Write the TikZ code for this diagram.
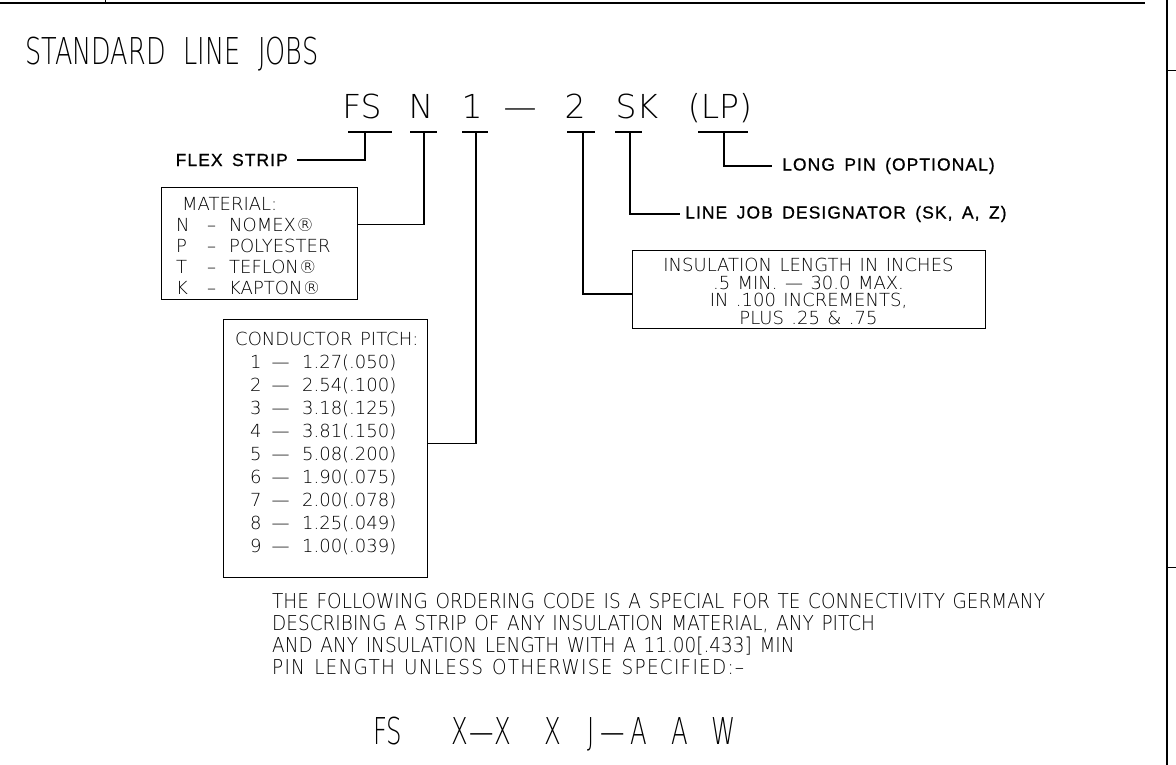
\documentclass[tikz,border=0pt]{standalone}
\usepackage{fontspec}
\IfFontExistsTF{DejaVuSans-ExtraLight.ttf}
  {\def\thinname{DejaVuSans-ExtraLight.ttf}}
  {\def\thinname{DejaVu Sans}}
\newfontfamily\cadfont[WordSpace=1.3]{\thinname}
\newfontfamily\cadnarrow[FakeStretch=0.66]{\thinname}
\newfontfamily\parafam[FakeStretch=0.9, WordSpace=1.3]{\thinname}
\newfontfamily\titlefam[FakeStretch=0.69, WordSpace=2.2]{\thinname}
\newfontfamily\lblfont[LetterSpace=6, WordSpace=1.6, FakeBold=0.8]{Liberation Sans}
\usetikzlibrary{positioning}
\newcommand{\matline}[2]{\makebox[14pt][l]{#1}\hspace{17pt}–\hspace{13pt}#2}
\newcommand{\pitchline}[2]{\hspace*{15pt}#1\hspace{10pt}—\hspace{12.5pt}#2}
\tikzset{
  titletxt/.style={inner sep=0pt, font=\titlefam\fontsize{37}{40}\selectfont},
  codetxt/.style={inner sep=0pt, anchor=base, font=\cadfont\fontsize{33}{36}\selectfont},
  ordertxt/.style={inner sep=0pt, font=\cadnarrow\fontsize{37}{40}\selectfont},
  cadtxt/.style={inner sep=0pt, align=left, font=\cadfont\fontsize{18}{21}\selectfont},
  paratxt/.style={inner sep=0pt, align=left, font=\parafam\fontsize{20.5}{22}\selectfont},
  lbl/.style={inner sep=0pt, font=\lblfont\fontsize{17.5}{20}\selectfont},
  cadbox/.style={draw, line width=0.9pt, inner sep=0pt, anchor=north west},
  bar/.style={line width=1.6pt},
  lead/.style={line width=1.6pt},
  frame/.style={line width=1.6pt},
  tick/.style={line width=0.6pt},
}
\begin{document}
\begin{tikzpicture}[x=1pt,y=-1pt]
\useasboundingbox (0,0) rectangle (1176,765);

% sheet frame
\draw[frame] (0,3) -- (1145,3);
\draw[tick] (105,0) -- (105,3);
\draw[frame, line width=2pt] (1166.5,0) -- (1166.5,765);
\draw[tick] (1167,70) -- (1176,70) (1167,567) -- (1176,567);

\node[titletxt, anchor=base west] (title) at (25,65) {STANDARD LINE JOBS};

% ordering code
\foreach \nm/\cx/\txt in {cFS/362/FS, cN/421/N, cOne/472/1, cDash/520/—,
                          cTwo/575/2, cSK/637/SK, cLP/720/{(LP)}}
  \node[codetxt] (\nm) at (\cx,119) {\txt};

\foreach \a/\b in {348/392, 410/437, 462/488, 567/595, 615/642, 698/748}
  \draw[bar] (\a,132) -- (\b,132);

\coordinate (tFS) at (365,132);
\coordinate (tN) at (424,132);
\coordinate (tOne) at (476,132);
\coordinate (tTwo) at (583,132);
\coordinate (tSK) at (630,132);
\coordinate (tLP) at (724,132);

% labels
\node[lbl, anchor=east] (flex) at (288,160) {FLEX STRIP};
\node[lbl, anchor=west] (longpin) at (782,166) {LONG PIN (OPTIONAL)};
\node[lbl, anchor=west] (linejob) at (685,214) {LINE JOB DESIGNATOR (SK, A, Z)};

% boxes
\node[cadbox, minimum width=196pt, minimum height=112pt] (matbox) at (161,187) {};
\node[cadtxt, anchor=north west] (mattxt) at (176,197)
  {\hspace*{6pt}MATERIAL:\\
   \matline{N}{NOMEX®}\\
   \matline{P}{POLYESTER}\\
   \matline{T}{TEFLON®}\\
   \matline{K}{KAPTON®}};

\node[cadbox, minimum width=204pt, minimum height=258pt] (pitchbox) at (223,319) {};
\node[cadtxt, anchor=north west, font=\cadfont\fontsize{18}{23}\selectfont] (pitchtxt) at (235,332)
  {CONDUCTOR PITCH:\\
   \pitchline{1}{1.27(.050)}\\
   \pitchline{2}{2.54(.100)}\\
   \pitchline{3}{3.18(.125)}\\
   \pitchline{4}{3.81(.150)}\\
   \pitchline{5}{5.08(.200)}\\
   \pitchline{6}{1.90(.075)}\\
   \pitchline{7}{2.00(.078)}\\
   \pitchline{8}{1.25(.049)}\\
   \pitchline{9}{1.00(.039)}};

\node[cadbox, minimum width=353pt, minimum height=78pt] (insbox) at (632,250) {};
\node[cadtxt, align=center, anchor=north, font=\cadfont\fontsize{18}{17.5}\selectfont] (instxt) at (808.5,258)
  {INSULATION LENGTH IN INCHES\\
   .5 MIN. — 30.0 MAX.\\
   IN .100 INCREMENTS,\\
   PLUS .25 \& .75};

% leaders
\draw[lead, shorten >=9pt] (tFS) |- (flex.east);
\draw[lead] (tN) |- ([yshift=19pt]matbox.east);
\draw[lead] (tOne) |- ([yshift=5pt]pitchbox.east);
\draw[lead] (tTwo) |- ([yshift=-4.5pt]insbox.west);
\draw[lead, shorten >=5pt] (tSK) |- (linejob.west);
\draw[lead, shorten >=10pt] (tLP) |- (longpin.west);

% special note
\node[paratxt, anchor=north west] (note) at (272,593)
  {THE FOLLOWING ORDERING CODE IS A SPECIAL FOR TE CONNECTIVITY GERMANY\\
   DESCRIBING A STRIP OF ANY INSULATION MATERIAL, ANY PITCH\\
   AND ANY INSULATION LENGTH WITH A 11.00[.433] MIN\\
   {\addfontfeature{LetterSpace=6}PIN LENGTH UNLESS OTHERWISE SPECIFIED:–}};

\node[ordertxt, anchor=base west] (order) at (373,744)
  {FS\hspace{49.5pt}X\hspace{1pt}—\hspace{1pt}X\hspace{32.6pt}X\hspace{26.3pt}J\hspace{6pt}—\hspace{6pt}A\hspace{24pt}A\hspace{23.3pt}W};

\end{tikzpicture}
\end{document}
